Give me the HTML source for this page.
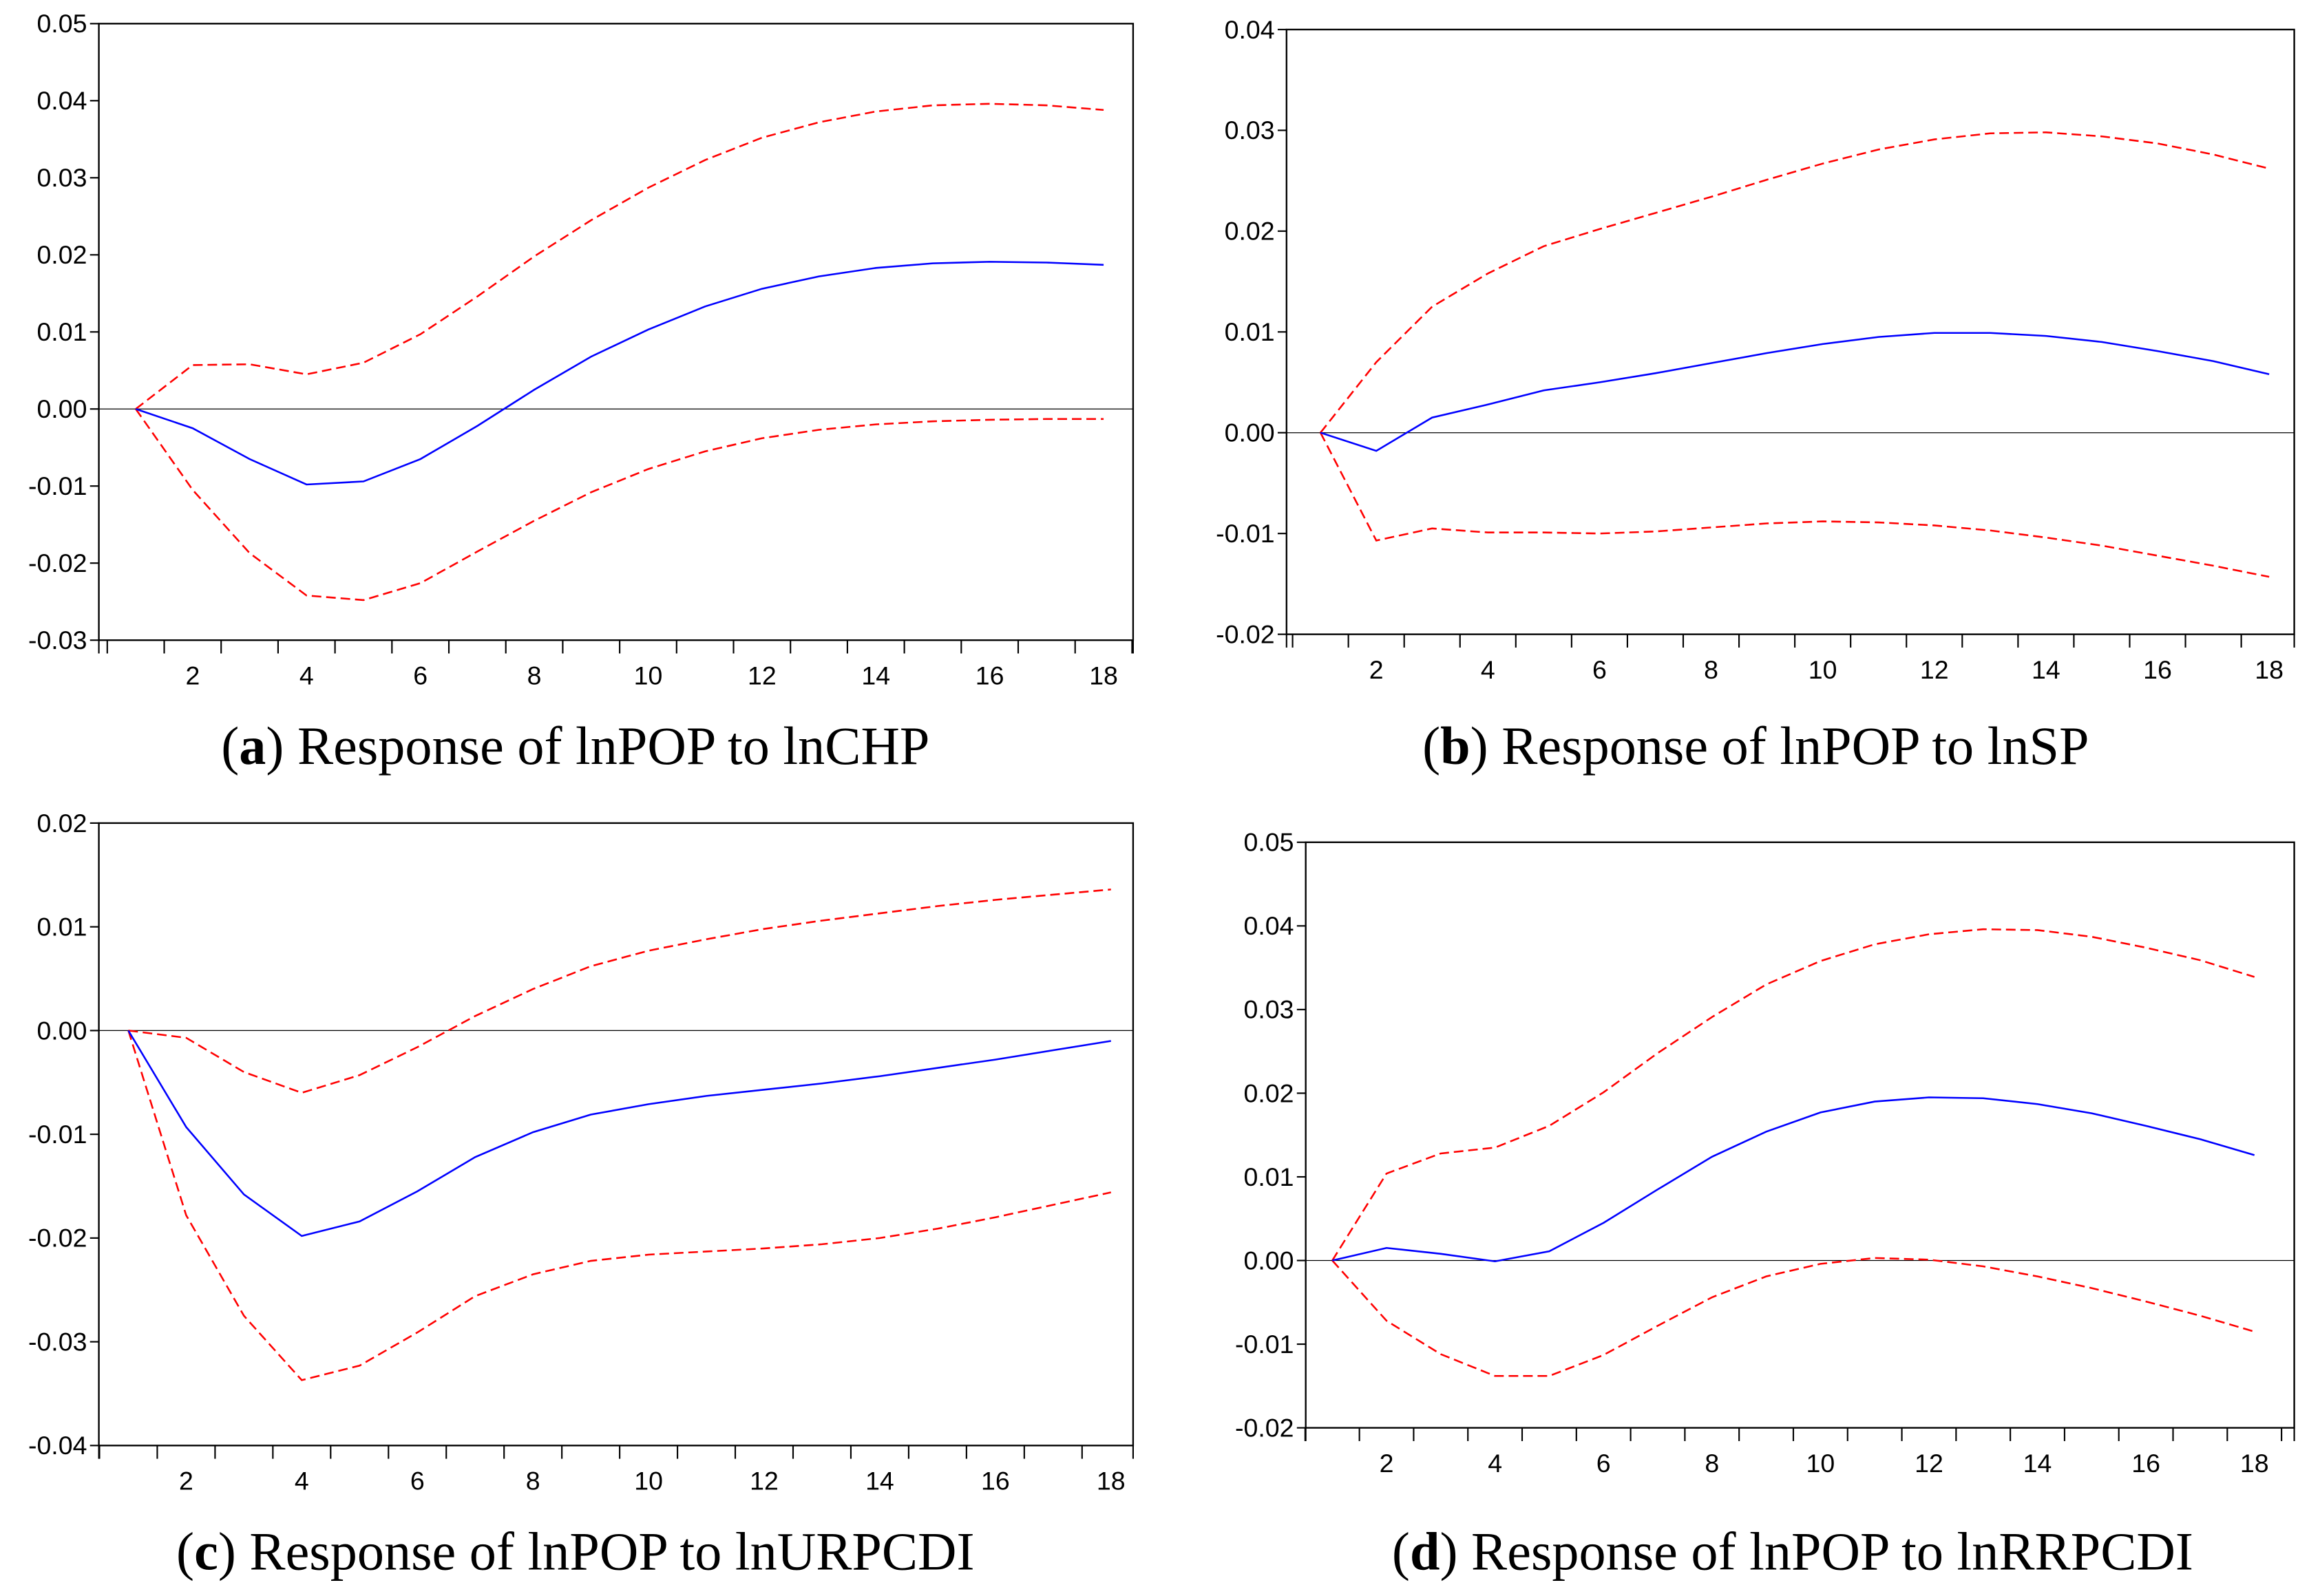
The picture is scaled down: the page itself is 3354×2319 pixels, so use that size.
<!DOCTYPE html>
<html><head><meta charset="utf-8"><style>
html,body{margin:0;padding:0;background:#fff;}
svg{display:block;}
.tk{font-family:"Liberation Sans Narrow","Liberation Sans",sans-serif;font-size:17.5px;fill:#000;}
.cap{font-family:"Liberation Serif",serif;font-size:36.5px;fill:#000;}
</style></head><body>
<svg id="fig" width="3354" height="2319" viewBox="0 0 1565 1082" xmlns="http://www.w3.org/2000/svg"></svg>
<script>
const periods=[1,2,3,4,5,6,7,8,9,10,11,12,13,14,15,16,17,18];
const xTickLabels=[2,4,6,8,10,12,14,16,18];
const meanA=[0,-.0025,-.0065,-.0098,-.0094,-.0065,-.0022,.0025,.0068,.0103,.0133,.0156,.0172,.0183,.0189,.0191,.019,.0187];
const upperA=[0,.0057,.0058,.0045,.006,.0097,.0146,.0198,.0245,.0287,.0323,.0352,.0372,.0386,.0394,.0396,.0394,.0388];
const lowerA=[0,-.0105,-.0187,-.0242,-.0248,-.0226,-.0185,-.0145,-.0108,-.0078,-.0055,-.0038,-.0027,-.002,-.0016,-.0014,-.0013,-.0013];
const meanB=[0,-.0018,.0015,.0028,.0042,.005,.0059,.0069,.0079,.0088,.0095,.0099,.0099,.0096,.009,.0081,.0071,.0058];
const upperB=[0,.007,.0125,.0158,.0185,.0202,.0218,.0234,.0251,.0267,.0281,.0291,.0297,.0298,.0294,.0287,.0276,.0262];
const lowerB=[0,-.0107,-.0095,-.0099,-.0099,-.01,-.0098,-.0094,-.009,-.0088,-.0089,-.0092,-.0097,-.0104,-.0112,-.0122,-.0132,-.0143];
const meanC=[0,-.0093,-.0158,-.0198,-.0184,-.0155,-.0122,-.0098,-.0081,-.0071,-.0063,-.0057,-.0051,-.0044,-.0036,-.0028,-.0019,-.001];
const upperC=[0,-.0007,-.004,-.006,-.0043,-.0016,.0014,.004,.0062,.0077,.0088,.0098,.0106,.0113,.012,.0126,.0131,.0136];
const lowerC=[0,-.0178,-.0275,-.0337,-.0323,-.0291,-.0256,-.0235,-.0222,-.0216,-.0213,-.021,-.0206,-.02,-.0191,-.018,-.0168,-.0156];
const meanD=[0,.0015,.0008,-.0001,.0011,.0045,.0085,.0124,.0154,.0177,.019,.0195,.0194,.0187,.0176,.0161,.0145,.0126];
const upperD=[0,.0104,.0128,.0135,.0161,.0201,.0248,.0291,.033,.0358,.0378,.039,.0396,.0395,.0387,.0374,.0359,.0339];
const lowerD=[0,-.0072,-.0112,-.0138,-.0138,-.0113,-.0078,-.0044,-.0019,-.0004,.0003,.0001,-.0007,-.0019,-.0033,-.0049,-.0066,-.0085];
const yTicksA=[0.05,0.04,0.03,0.02,0.01,0,-0.01,-0.02,-0.03];
const yTicksB=[0.04,0.03,0.02,0.01,0,-0.01,-0.02];
const yTicksC=[0.02,0.01,0,-0.01,-0.02,-0.03,-0.04];
const yTicksD=[0.05,0.04,0.03,0.02,0.01,0,-0.01,-0.02];

const NS="http://www.w3.org/2000/svg";
const svg=document.getElementById('fig');
function mk(tag,attrs,parent){const e=document.createElementNS(NS,tag);for(const k in attrs)e.setAttribute(k,attrs[k]);(parent||svg).appendChild(e);return e;}

const panels=[
 {id:'a',L:67,R:768,T:16,B:434,x1:92,x18:748,yt:yTicksA,mean:meanA,up:upperA,lo:lowerA,cx:390,cy:518,title:' Response of lnPOP to lnCHP'},
 {id:'b',L:872,R:1555,T:20,B:430,x1:895,x18:1538,yt:yTicksB,mean:meanB,up:upperB,lo:lowerB,cx:1190,cy:518,title:' Response of lnPOP to lnSP'},
 {id:'c',L:67,R:768,T:558,B:980,x1:87,x18:753,yt:yTicksC,mean:meanC,up:upperC,lo:lowerC,cx:390,cy:1064,title:' Response of lnPOP to lnURPCDI'},
 {id:'d',L:885,R:1555,T:571,B:968,x1:903,x18:1528,yt:yTicksD,mean:meanD,up:upperD,lo:lowerD,cx:1215,cy:1064,title:' Response of lnPOP to lnRRPCDI'}
];

panels.forEach(p=>{
 const g=mk('g',{});
 
 
 const ymax=p.yt[0],ymin=p.yt[p.yt.length-1];
 const X=v=>p.x1+(v-1)*(p.x18-p.x1)/17;
 const Y=v=>p.T+(ymax-v)*(p.B-p.T)/(ymax-ymin);
 const frame=mk('rect',{x:p.L,y:p.T,width:p.R-p.L,height:p.B-p.T,fill:'none',stroke:'#000','stroke-width':1.1},g);
 
 
 p.yt.forEach(v=>{
  mk('line',{x1:p.L-6,x2:p.L,y1:Y(v),y2:Y(v),stroke:'#000','stroke-width':1},g);
  const t=mk('text',{x:p.L-8,y:Y(v)+6,'text-anchor':'end',class:'tk'},g);
  
  
  t.textContent=v.toFixed(2);
 });
 const z=mk('line',{x1:p.L,x2:p.R,y1:Y(0),y2:Y(0),stroke:'#000','stroke-width':0.6},g);
 
 
 for(let i=0;i<=18;i++){
  const xx=X(i+0.5);
  if(xx<p.L-0.5||xx>p.R+0.5)continue;
  mk('line',{x1:xx,x2:xx,y1:p.B,y2:p.B+9,stroke:'#000','stroke-width':1},g);
 }
 mk('line',{x1:p.L,x2:p.L,y1:p.B,y2:p.B+9,stroke:'#000','stroke-width':1},g);
 mk('line',{x1:p.R,x2:p.R,y1:p.B,y2:p.B+9,stroke:'#000','stroke-width':1},g);
 xTickLabels.forEach(v=>{
  const t=mk('text',{x:X(v),y:p.B+30,'text-anchor':'middle',class:'tk'},g);
  
  
  t.textContent=v;
 });
 const pts=arr=>arr.map((v,i)=>X(periods[i]).toFixed(2)+','+Y(v).toFixed(2)).join(' ');
 const u=mk('polyline',{points:pts(p.up),fill:'none',stroke:'#ff0000','stroke-width':1.2,'stroke-dasharray':'6.5,3.3'},g);
 
 
 const l=mk('polyline',{points:pts(p.lo),fill:'none',stroke:'#ff0000','stroke-width':1.2,'stroke-dasharray':'6.5,3.3'},g);
 
 
 const m=mk('polyline',{points:pts(p.mean),fill:'none',stroke:'#0000ff','stroke-width':1.2},g);
 
 
 const c=mk('text',{x:p.cx,y:p.cy,'text-anchor':'middle',class:'cap'},g);
 
 
 const t1=mk('tspan',{},c);t1.textContent='(';
 const t2=mk('tspan',{'font-weight':'bold'},c);t2.textContent=p.id;
 const t3=mk('tspan',{},c);t3.textContent=')'+p.title;
});
</script>
</body></html>
